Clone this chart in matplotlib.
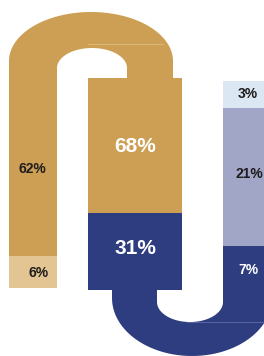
import matplotlib.pyplot as plt
import numpy as np
from matplotlib.patches import Polygon

# values shown on the three columns (top segment first)
left_vals = [62, 6]
mid_vals = [68, 31]
right_vals = [3, 21, 7]

GOLD = '#CD9F55'
GOLD_LT = '#E3C593'
NAVY = '#2E3C80'
LAV = '#A1A5C6'
SKY = '#DCE7F4'

left_cols = [GOLD, GOLD_LT]
mid_cols = [GOLD, NAVY]
right_cols = [SKY, LAV, NAVY]

# layout in pixel units (y grows downward) - segment heights are not to scale
left_x, left_edges = (9, 57), [62, 256, 288]
mid_x, mid_edges = (88, 182), [78, 213, 290]
right_x, right_edges = (223, 273), [81, 108, 246, 322]

plt.rcParams['font.family'] = ['Liberation Sans', 'DejaVu Sans']

fig = plt.figure(figsize=(2.64, 3.56), dpi=100)
ax = fig.add_axes([0, 0, 1, 1])
ax.set_xlim(0, 264)
ax.set_ylim(356, 0)
ax.axis('off')


def column(xr, edges, cols):
    for i, c in enumerate(cols):
        ax.bar((xr[0] + xr[1]) / 2, edges[i + 1] - edges[i], bottom=edges[i],
               width=xr[1] - xr[0], color=c, linewidth=0, zorder=2)


# top gold band (left column -> middle column)
t = np.linspace(np.pi, 0, 80)
outer = np.c_[91 + 82 * np.cos(t), 61 - 49 * np.sin(t)]
t2 = np.linspace(0, np.pi, 60)
inner = np.c_[92 + 35 * np.cos(t2), 68 - 20 * np.sin(t2)]
pts = np.vstack([outer, [[173, 80], [127, 80], [127, 68]], inner,
                 [[57, 256], [9, 256]]])
ax.add_patch(Polygon(pts, closed=True, facecolor=GOLD, edgecolor='none', zorder=1))
ax.plot([88, 163], [44, 44], color='#DDB877', lw=0.7, zorder=3)

# bottom navy band (middle column -> right column)
t = np.linspace(0, np.pi, 80)
outer = np.c_[192 - 80 * np.cos(t), 298 + 58 * np.sin(t)]
inner = np.c_[190 + 33 * np.cos(t), 302 + 20 * np.sin(t)]
pts = np.vstack([[[112, 280]], outer, [[272, 280], [223, 280]], inner, [[157, 280]]])
ax.add_patch(Polygon(pts, closed=True, facecolor=NAVY, edgecolor='none', zorder=1))

column(left_x, left_edges, left_cols)
column(mid_x, mid_edges, mid_cols)
column(right_x, right_edges, right_cols)
ax.plot([187, 264], [322, 322], color='#5A67A0', lw=0.7, zorder=3)

dark = '#1E1C1C'
small = dict(ha='center', va='center', fontsize=10, fontweight='bold', zorder=4)
big = dict(ha='center', va='center', fontsize=15, fontweight='bold', zorder=4)

ax.text(32, 169, f'{left_vals[0]}%', color=dark, **small)
ax.text(39, 273, f'{left_vals[1]}%', color=dark, **small)
ax.text(135, 146, f'{mid_vals[0]}%', color='white', **big)
ax.text(135, 249, f'{mid_vals[1]}%', color='white', **big)
ax.text(248, 94, f'{right_vals[0]}%', color=dark, **small)
ax.text(249, 174, f'{right_vals[1]}%', color=dark, **small)
ax.text(248, 270, f'{right_vals[2]}%', color='white', **small)

fig.savefig('out.png', dpi=100)
